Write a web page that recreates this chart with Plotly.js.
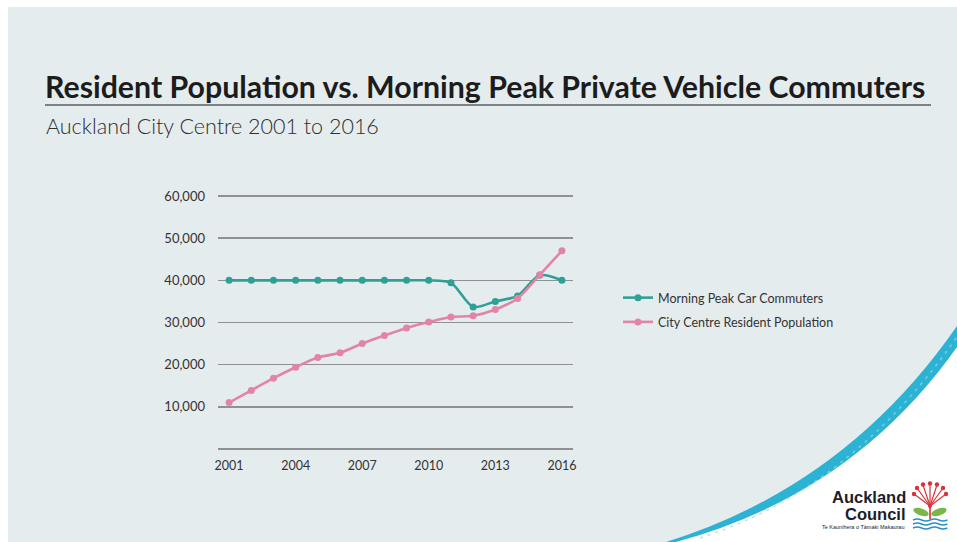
<!DOCTYPE html>
<html>
<head>
<meta charset="utf-8">
<script src="https://cdn.plot.ly/plotly-3.0.1.min.js"></script>
<style>
  html, body { margin: 0; padding: 0; background: #ffffff; }
  #wrap { position: relative; width: 957px; height: 542px; overflow: hidden; }
  #bg { position: absolute; left: 0; top: 0; }
  #chart { position: absolute; left: 0; top: 0; width: 957px; height: 542px; }
</style>
</head>
<body>
<div id="wrap">
<svg id="bg" width="957" height="542" viewBox="0 0 957 542">
  <rect x="0" y="0" width="957" height="542" fill="#ffffff"/>
  <rect x="8" y="7" width="949" height="535" fill="#e5ecee"/>
  <!-- title underline -->
  <line x1="45" y1="105" x2="931" y2="105" stroke="#7c8286" stroke-width="2"/>
  <!-- decorative arc -->
  <path d="M 666 542 Q 846 486 957 326 L 957 542 Z" fill="#2cb3d4"/>
  <path d="M 676 542 Q 853 494 957 347 L 957 542 Z" fill="#ffffff"/>
  <path d="M 700 538 Q 850 490 957 337" fill="none" stroke="#8fdcef" stroke-width="1.5" stroke-dasharray="3 5" opacity="0.7"/>
  <!-- logo icon -->
  <g>
    <g stroke="#d8323a" stroke-width="1.2" fill="none">
      <line x1="930" y1="506" x2="914" y2="494"/>
      <line x1="930" y1="506" x2="917" y2="488"/>
      <line x1="930" y1="506" x2="923" y2="485"/>
      <line x1="930" y1="506" x2="930" y2="484"/>
      <line x1="930" y1="506" x2="937" y2="485"/>
      <line x1="930" y1="506" x2="943" y2="488"/>
      <line x1="930" y1="506" x2="946" y2="494"/>
    </g>
    <g fill="#d8323a">
      <circle cx="914" cy="494" r="2.2"/>
      <circle cx="917" cy="488" r="2.2"/>
      <circle cx="923" cy="484.5" r="2.2"/>
      <circle cx="930" cy="483.5" r="2.2"/>
      <circle cx="937" cy="484.5" r="2.2"/>
      <circle cx="943" cy="488" r="2.2"/>
      <circle cx="946" cy="494" r="2.2"/>
      <circle cx="930" cy="506" r="2"/>
      <rect x="929.2" y="506" width="1.6" height="13"/>
    </g>
    <ellipse cx="921" cy="512" rx="8" ry="3.5" fill="#7ab648" transform="rotate(20 921 512)"/>
    <ellipse cx="939" cy="512" rx="8" ry="3.5" fill="#7ab648" transform="rotate(-20 939 512)"/>
    <g stroke="#2a8fd0" stroke-width="1.4" fill="none">
      <path d="M 913 520 q 4.3 -2 8.6 0 t 8.6 0 t 8.6 0 t 8.6 0"/>
      <path d="M 913 524 q 4.3 -2 8.6 0 t 8.6 0 t 8.6 0 t 8.6 0"/>
      <path d="M 913 528 q 4.3 -2 8.6 0 t 8.6 0 t 8.6 0 t 8.6 0"/>
    </g>
  </g>
</svg>
<div id="chart"></div>
</div>
<script>
// ---- data ----
var years = [2001, 2002, 2003, 2004, 2005, 2006, 2007, 2008, 2009, 2010, 2011, 2012, 2013, 2014, 2015, 2016];
var carCommuters = [40000, 40000, 40000, 40000, 40000, 40000, 40000, 40000, 40000, 40000, 39400, 33700, 35000, 36300, 41200, 40000];
var residentPopulation = [11000, 13900, 16800, 19400, 21700, 22800, 25000, 26900, 28700, 30100, 31300, 31600, 33100, 35700, 41300, 47000];
var seriesNames = ["Morning Peak Car Commuters", "City Centre Resident Population"];
var xTickVals = [2001, 2004, 2007, 2010, 2013, 2016];
var yTickVals = [0, 10000, 20000, 30000, 40000, 50000, 60000];
var yTickText = ["", "10,000", "20,000", "30,000", "40,000", "50,000", "60,000"];
var titleText = "Resident Population vs. Morning Peak Private Vehicle Commuters";
var subtitleText = "Auckland City Centre 2001 to 2016";

var tealColor = "#2fa096";
var pinkColor = "#e384a7";

// plot area geometry (pixels)
var plotTop = 194, plotBottom = 451, plotLeft = 218, plotRight = 573;
var plotW = plotRight - plotLeft, plotH = plotBottom - plotTop;
function px(x) { return (x - plotLeft) / plotW; }
function py(y) { return (plotBottom - y) / plotH; }

var traces = [
  {
    x: years, y: carCommuters, name: seriesNames[0], type: "scatter", mode: "lines+markers",
    line: { color: tealColor, width: 2.6, shape: "spline", smoothing: 0.8 },
    marker: { color: tealColor, size: 7 },
    legendgroup: "a"
  },
  {
    x: years, y: residentPopulation, name: seriesNames[1], type: "scatter", mode: "lines+markers",
    line: { color: pinkColor, width: 2.6, shape: "spline", smoothing: 0.8 },
    marker: { color: pinkColor, size: 7 },
    legendgroup: "b"
  }
];

var layout = {
  width: 957, height: 542,
  margin: { l: plotLeft, r: 957 - plotRight, t: plotTop, b: 542 - plotBottom, pad: 0 },
  paper_bgcolor: "rgba(0,0,0,0)",
  plot_bgcolor: "rgba(0,0,0,0)",
  font: { family: "Lato, 'Open Sans', sans-serif", size: 13, color: "#333333" },
  title: {
    text: titleText,
    font: { family: "Lato, 'Open Sans', sans-serif", size: 30.3, weight: 700, color: "#1c1c1c" },
    xref: "container", yref: "container",
    x: 45 / 957, xanchor: "left",
    y: 1 - 87 / 542, yanchor: "middle"
  },
  annotations: [
    {
      text: subtitleText, xref: "paper", yref: "paper",
      x: px(44), y: py(126), xanchor: "left", yanchor: "middle",
      showarrow: false,
      font: { family: "Lato, 'Open Sans', sans-serif", size: 21.5, weight: 300, color: "#2e2e2e" }
    },
    {
      text: "<b>Auckland</b>", xref: "paper", yref: "paper",
      x: px(908), y: py(497), xanchor: "right", yanchor: "middle",
      showarrow: false,
      font: { family: "'Liberation Sans', Arial, sans-serif", size: 16.5, color: "#1b1d2e" }
    },
    {
      text: "<b>Council</b>", xref: "paper", yref: "paper",
      x: px(908), y: py(514), xanchor: "right", yanchor: "middle",
      showarrow: false,
      font: { family: "'Liberation Sans', Arial, sans-serif", size: 16.5, color: "#1b1d2e" }
    },
    {
      text: "Te Kaunihera o Tāmaki Makaurau", xref: "paper", yref: "paper",
      x: px(906), y: py(527), xanchor: "right", yanchor: "middle",
      showarrow: false,
      font: { family: "'Liberation Sans', Arial, sans-serif", size: 5.5, color: "#1b1d2e" }
    }
  ],
  xaxis: {
    range: [2000.5, 2016.5],
    tickvals: xTickVals,
    showgrid: false, zeroline: false, showline: false,
    ticks: "", ticklabelstandoff: 5,
    tickfont: { size: 12.5, color: "#333333" },
    fixedrange: true
  },
  yaxis: {
    range: [-474, 60474],
    tickvals: yTickVals, ticktext: yTickText,
    showgrid: true, gridcolor: "#8e9295", gridwidth: 1.6,
    zeroline: false, showline: false,
    ticks: "", ticklabelstandoff: 12,
    tickfont: { size: 13, color: "#333333" },
    fixedrange: true
  },
  showlegend: true,
  legend: {
    x: px(618), xanchor: "left",
    y: py(283), yanchor: "top",
    bgcolor: "rgba(0,0,0,0)",
    font: { size: 12.5, color: "#333333" },
    tracegroupgap: 5
  }
};

Plotly.newPlot("chart", traces, layout, { displayModeBar: false, staticPlot: true });
</script>
</body>
</html>
